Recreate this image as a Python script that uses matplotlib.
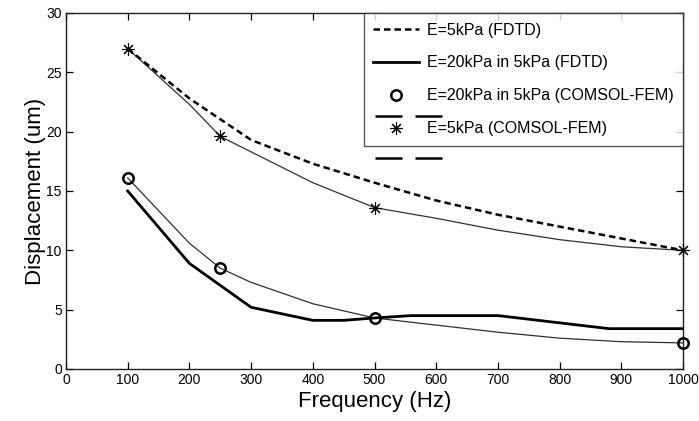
import matplotlib
matplotlib.use("Agg")
import matplotlib.pyplot as plt

plt.rcParams['font.family'] = ['Liberation Sans', 'DejaVu Sans']

# FDTD, E=5kPa (dashed)
freq_fdtd5 = [100, 200, 300, 400, 500, 600, 700, 800, 900, 1000]
disp_fdtd5 = [27.0, 22.8, 19.3, 17.3, 15.7, 14.2, 13.0, 12.0, 11.0, 10.0]

# FDTD, E=20kPa in 5kPa (thick solid)
freq_fdtd20 = [100, 200, 300, 400, 450, 500, 560, 700, 880, 1000]
disp_fdtd20 = [15.0, 8.9, 5.2, 4.1, 4.1, 4.3, 4.5, 4.5, 3.4, 3.4]

# COMSOL-FEM, E=5kPa (thin curve + asterisks)
freq_fem5_curve = [100, 200, 250, 300, 400, 500, 600, 700, 800, 900, 1000]
disp_fem5_curve = [27.0, 22.3, 19.6, 18.3, 15.7, 13.6, 12.7, 11.7, 10.9, 10.3, 10.0]
freq_fem5_pts = [100, 250, 500, 1000]
disp_fem5_pts = [27.0, 19.6, 13.6, 10.0]

# COMSOL-FEM, E=20kPa in 5kPa (thin curve + circles)
freq_fem20_curve = [100, 200, 250, 300, 400, 500, 600, 700, 800, 900, 1000]
disp_fem20_curve = [16.1, 10.6, 8.5, 7.3, 5.5, 4.3, 3.7, 3.1, 2.6, 2.3, 2.2]
freq_fem20_pts = [100, 250, 500, 1000]
disp_fem20_pts = [16.1, 8.5, 4.3, 2.2]

labels = ["E=5kPa (FDTD)", "E=20kPa in 5kPa (FDTD)",
          "E=20kPa in 5kPa (COMSOL-FEM)", "E=5kPa (COMSOL-FEM)"]
xticks = list(range(0, 1001, 100))
yticks = list(range(0, 31, 5))

fig = plt.figure(figsize=(6.99, 4.21), dpi=100)
ax = fig.add_axes([66/699, 52/421, 617/699, 356/421])

thin = dict(color='#303030', lw=0.9)
ax.plot(freq_fem5_curve, disp_fem5_curve, **thin)
ax.plot(freq_fem20_curve, disp_fem20_curve, **thin)
l1, = ax.plot(freq_fdtd5, disp_fdtd5, color='black', lw=1.8, ls=(0, (2.6, 1.6)), label=labels[0])
l2, = ax.plot(freq_fdtd20, disp_fdtd20, color='black', lw=2.0, label=labels[1])
l3, = ax.plot(freq_fem20_pts, disp_fem20_pts, ls='none', marker='o', ms=7.5, mfc='none',
              mec='black', mew=1.8, label=labels[2], clip_on=False, zorder=4)
l4, = ax.plot(freq_fem5_pts, disp_fem5_pts, ls='none', marker=(8, 2, 0), ms=9,
              mec='black', mew=0.8, label=labels[3], clip_on=False, zorder=4)

ax.set_xlim(0, 1000)
ax.set_ylim(0, 30)
ax.set_xticks(xticks)
ax.set_yticks(yticks)
ax.tick_params(direction='in', length=5, width=0.9, top=True, right=True,
               labelsize=10, pad=3, color='black')
for s in ax.spines.values():
    s.set_linewidth(1.0)
    s.set_color('#202020')

ax.set_xlabel("Frequency (Hz)", fontsize=16, labelpad=3)
ax.set_ylabel("Displacement (um)", fontsize=16, labelpad=0)

leg = ax.legend(handles=[l1, l2, l3, l4], loc='upper right', bbox_to_anchor=(1.0, 1.0),
                borderaxespad=0.0, fontsize=11.5, frameon=True, fancybox=False,
                edgecolor='#303030', handlelength=2.9, handletextpad=0.45,
                labelspacing=1.12, borderpad=0.6)
leg.get_frame().set_linewidth(1.0)
leg.set_zorder(5)

# stray legend line fragments visible in the reference
for yy in (0.711, 0.593):
    for x0, x1 in ((0.501, 0.545), (0.566, 0.609)):
        ax.plot([x0, x1], [yy, yy], transform=ax.transAxes, color='black', lw=1.8,
                clip_on=False, zorder=6, solid_capstyle='butt')

fig.savefig("out.png", dpi=100)
